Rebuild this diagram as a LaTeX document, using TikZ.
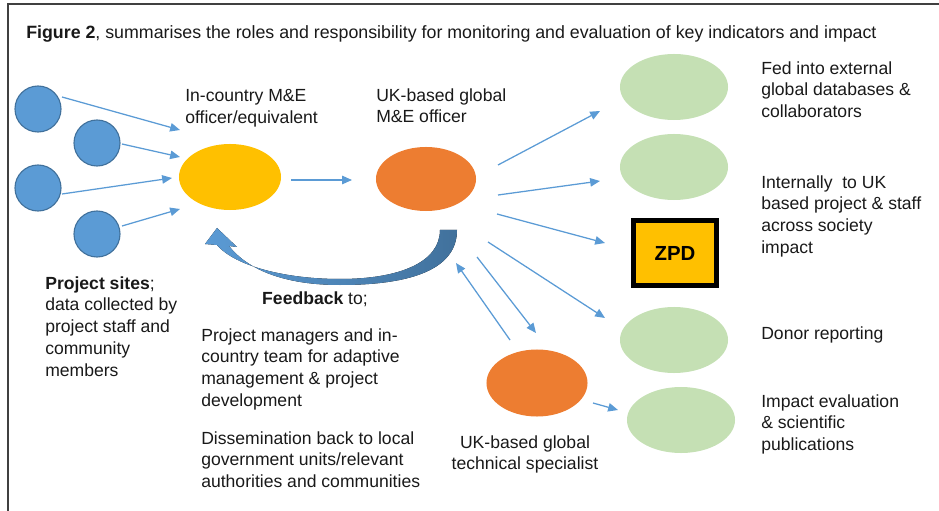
\documentclass[tikz,border=0pt]{standalone}
\usepackage{fontspec}
\setmainfont{Liberation Sans}
\usetikzlibrary{arrows.meta, shapes.geometric}

\definecolor{siteblue}{HTML}{5B9BD5}
\definecolor{siteedge}{HTML}{41719C}
\definecolor{meyellow}{HTML}{FFC000}
\definecolor{meorange}{HTML}{ED7D31}
\definecolor{outgreen}{HTML}{C5E0B4}

\tikzset{
  site/.style={circle, fill=siteblue, draw=siteedge, line width=0.8pt, minimum size=1.15cm, inner sep=0},
  role/.style={ellipse, minimum width=2.55cm, minimum height=1.65cm, inner sep=0},
  outcome/.style={ellipse, fill=outgreen, minimum width=2.7cm, minimum height=1.65cm, inner sep=0},
  flow/.style={draw=siteblue, line width=0.9pt, -{Triangle[length=7pt, width=6pt]}},
  lbl/.style={font=\fontsize{12.5}{15.6}\selectfont, text=black!90, align=left, anchor=north west, inner sep=0},
}

\begin{document}
\begin{tikzpicture}[x=0.025cm, y=-0.025cm]
  \useasboundingbox (0,0) rectangle (939,511);
  \draw[line width=1.2pt, black!75] (8,511) -- (8,4) -- (939,4);

  \node[lbl, font=\fontsize{12.65}{14}\selectfont] (title) at (26,25)
    {\textbf{Figure 2}, summarises the roles and responsibility for monitoring and evaluation of key indicators and impact};

  % project sites
  \node[site] (s1) at (38,109) {};
  \node[site] (s2) at (97,143) {};
  \node[site] (s3) at (38,188) {};
  \node[site] (s4) at (97,234) {};

  \node[role, fill=meyellow] (me) at (230,177) {};
  \node[role, fill=meorange, minimum width=2.5cm, minimum height=1.6cm] (gm) at (426,179) {};
  \node[role, fill=meorange, minimum width=2.525cm, minimum height=1.675cm] (ts) at (537,383) {};

  \node[outcome] (o1) at (674,87) {};
  \node[outcome] (o2) at (674,167) {};
  \node[draw=black, line width=3.6pt, fill=meyellow, minimum width=2.075cm, minimum height=1.625cm,
        font=\fontsize{14.5}{16}\selectfont\bfseries] (zpd) at (675,253) {ZPD};
  \node[outcome] (o3) at (674,340) {};
  \node[outcome] (o4) at (681,420) {};

  \draw[flow] ([shift={(24,-12)}]s1.center) -- ([shift={(-50,-47)}]me.center);
  \draw[flow] ([shift={(25,1)}]s2.center) -- ([shift={(-50,-20)}]me.center);
  \draw[flow] ([shift={(24,6)}]s3.center) -- ([shift={(-58,1)}]me.center);
  \draw[flow] ([shift={(25,-8)}]s4.center) -- ([shift={(-50,32)}]me.center);
  \draw[flow] ([shift={(61,3)}]me.center) -- ([shift={(-74,1)}]gm.center);

  \draw[flow] ([shift={(72,-14)}]gm.center) -- ([shift={(-74,24)}]o1.center);
  \draw[flow] ([shift={(72,16)}]gm.center) -- ([shift={(-74,14)}]o2.center);
  \draw[flow] ([shift={(71,35)}]gm.center) -- ([shift={(-70,-10)}]zpd.center);
  \draw[flow] ([shift={(62,63)}]gm.center) -- ([shift={(-69,-22)}]o3.center);
  \draw[flow] ([shift={(56,20)}]ts.center) -- ([shift={(-63,-10)}]o4.center);
  \draw[flow] ([shift={(-27,-43)}]ts.center) -- ([shift={(30,84)}]gm.center);
  \draw[flow] ([shift={(51,78)}]gm.center) -- ([shift={(-1,-50)}]ts.center);

  % curved feedback arrow
  \fill[left color=siteblue, right color=siteedge]
    (457,230) .. controls (457,272) and (405,285) .. (340,285)
    .. controls (285,285) and (248,270) .. (229,246)
    -- (237,247) -- (217,228) -- (205,244) -- (217,245)
    .. controls (235,266) and (285,279) .. (340,279)
    .. controls (400,279) and (440,262) .. (440,230) -- cycle;

  \node[lbl] (melbl) at (185,89) {In-country M\&E\\officer/equivalent};
  \node[lbl] (gmlbl) at (376,88) {UK-based global\\M\&E officer};
  \node[lbl] (sitelbl) at (45,276) {\textbf{Project sites};\\data collected by\\project staff and\\community\\members};
  \node[lbl, anchor=north] (fblbl) at (315,291) {\textbf{Feedback} to;};
  \node[lbl] (fbone) at (201,328) {Project managers and in-\\country team for adaptive\\management \& project\\development};
  \node[lbl] (fbtwo) at (201,431) {Dissemination back to local\\government units/relevant\\authorities and communities};
  \node[lbl, anchor=north, align=center] (tslbl) at (525,435) {UK-based global\\technical specialist};

  \node[lbl] (o1lbl) at (761,61) {Fed into external\\global databases \&\\collaborators};
  \node[lbl] (o2lbl) at (761,175) {Internally\ \ to UK\\based project \& staff\\across society\\impact};
  \node[lbl] (o3lbl) at (761,326) {Donor reporting};
  \node[lbl] (o4lbl) at (761,394) {Impact evaluation\\\& scientific\\publications};
\end{tikzpicture}
\end{document}
